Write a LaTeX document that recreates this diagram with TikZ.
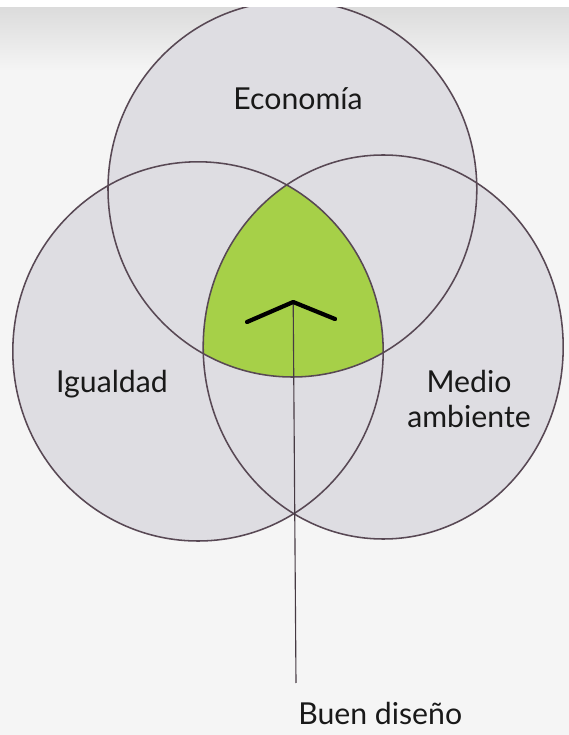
\documentclass[tikz,border=0pt]{standalone}
\usepackage{fontspec}
\setmainfont{Lato}
\usepackage{xcolor}
\definecolor{paper}{RGB}{245,245,245}
\definecolor{venngray}{RGB}{222,221,226}
\definecolor{rimcol}{RGB}{88,72,84}
\definecolor{leafgreen}{RGB}{166,208,72}

\begin{document}
\begin{tikzpicture}[
    ring/.style={draw=rimcol, line width=1.1pt},
    word/.style={font=\fontsize{21.5}{25}\selectfont, text=black!90, inner sep=0pt}]
        \useasboundingbox (0,0) rectangle (14.225,18.375);
        \fill[paper] (0,0) rectangle (14.225,18.375); % Paper
        \shade[top color=gray!28, bottom color=paper] (0,16.6) rectangle (14.225,18.2); % Shadow at the top
        \fill[venngray] (7.31,13.65) ellipse (4.61 and 4.7); % Economia
        \fill[venngray] (4.95,9.59) ellipse (4.63 and 4.74); % Igualdad
        \fill[venngray] (9.58,9.70) ellipse (4.5 and 4.8); % Medio ambiente
        \begin{scope}
            \clip (7.31,13.65) ellipse (4.61 and 4.7);
            \clip (4.95,9.59) ellipse (4.63 and 4.74);
            \fill[leafgreen] (9.58,9.70) ellipse (4.5 and 4.8); % Common part
        \end{scope}
        \draw[ring] (7.31,13.65) ellipse (4.61 and 4.7);
        \draw[ring] (4.95,9.59) ellipse (4.63 and 4.74);
        \draw[ring] (9.58,9.70) ellipse (4.5 and 4.8);
        \fill[white] (0,18.2) rectangle (14.225,18.375); % Top strip
        \node[word, anchor=base] (econ) at (7.45,15.625) {Economía};
        \node[word, anchor=base] (igual) at (2.8,8.55) {Igualdad};
        \node[word, anchor=base, align=center] (medio) at (11.725,7.675) {Medio\\ambiente};
        \node[word, anchor=base west] (diseno) at (7.45,0.25) {Buen diseño};
        \coordinate (apex) at (7.33,10.825);
        \coordinate (tail) at (7.4,1.3);
        \draw[rimcol!80!black, line width=0.8pt] (apex) -- (tail);
        \draw[black, line width=3pt, line cap=round, line join=round] (6.175,10.325) -- (apex) -- (8.375,10.4); % Chevron
    \end{tikzpicture}
\end{document}
